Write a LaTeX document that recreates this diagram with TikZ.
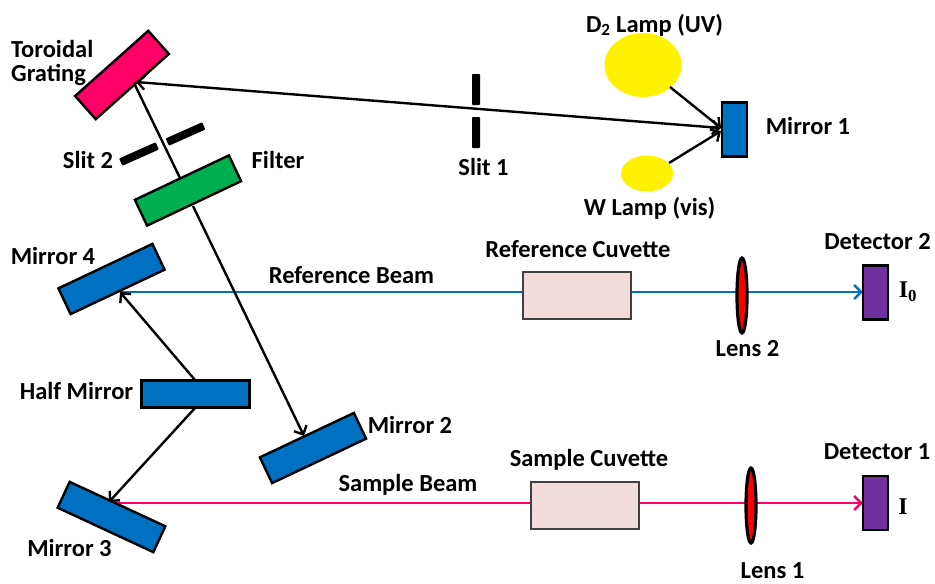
\documentclass[tikz,border=0pt]{standalone}
\usepackage{fontspec}
\setmainfont{Carlito}
\newfontfamily\serifbold{Liberation Serif}
\usetikzlibrary{arrows.meta,shapes.geometric,backgrounds}
\definecolor{mblue}{HTML}{0070C0}
\definecolor{mpink}{HTML}{FF0066}
\definecolor{mgreen}{HTML}{00B050}
\definecolor{mpurple}{HTML}{7030A0}
\definecolor{mcuv}{HTML}{F2DCDB}
\tikzset{
  optic/.style={draw=black,line width=2.4pt,rectangle,inner sep=0pt,outer sep=0pt},
  mirrorbox/.style={optic,fill=mblue},
  cuvette/.style={draw=black!75,line width=2pt,rectangle,inner sep=0pt,fill=mcuv,minimum width=108pt,minimum height=47pt},
  detector/.style={optic,fill=mpurple,minimum width=25.5pt,minimum height=54pt},
  lens/.style={ellipse,draw=black,line width=3.2pt,fill=red,inner sep=0pt,minimum width=10pt,minimum height=75pt},
  lamp/.style={ellipse,fill=yellow,inner sep=0pt},
  slitbar/.style={fill=black,rectangle,rounded corners=0.8pt,inner sep=0pt},
  lab/.style={font=\fontsize{24.5}{24}\selectfont\bfseries,inner sep=0pt,align=left},
  serlab/.style={font=\fontsize{24}{24}\selectfont\serifbold\bfseries,inner sep=0pt},
  beam/.style={line width=2.4pt,draw=black},
  tip/.style={-{Straight Barb[length=7pt,width=14pt,line width=2.4pt]}}
}
\begin{document}
\begin{tikzpicture}[x=1pt,y=-1pt]
\useasboundingbox (0,0) rectangle (935,584);
% optical elements
\node[optic,fill=mpink,minimum width=98pt,minimum height=31pt,rotate=41.7] (grating) at (122,75) {};
\node[optic,fill=mgreen,minimum width=104pt,minimum height=28.5pt,rotate=25.3] (filter) at (188,190.5) {};
\node[mirrorbox,minimum width=104pt,minimum height=28.5pt,rotate=25.3] (m4) at (111.5,279) {};
\node[mirrorbox,minimum width=104pt,minimum height=28.5pt,rotate=25.3] (m2) at (313,448) {};
\node[mirrorbox,minimum width=105.5pt,minimum height=28.5pt,rotate=-24.9] (m3) at (111.5,517) {};
\node[mirrorbox,minimum width=108pt,minimum height=27pt] (half) at (195.5,394) {};
\node[mirrorbox,minimum width=25pt,minimum height=54pt] (m1) at (734.5,129.5) {};
\node[lamp,minimum width=77pt,minimum height=64pt] (d2) at (643,65) {};
\node[lamp,minimum width=52pt,minimum height=36pt] (w) at (647,173.5) {};
\node[slitbar,minimum width=8pt,minimum height=31pt] (s1a) at (476,89.5) {};
\node[slitbar,minimum width=8pt,minimum height=31pt] (s1b) at (476,132.5) {};
\node[slitbar,minimum width=40pt,minimum height=8pt,rotate=24] (s2a) at (139,154) {};
\node[slitbar,minimum width=40pt,minimum height=8pt,rotate=24] (s2b) at (185.5,134) {};
\node[cuvette] (refcuv) at (576.5,295.5) {};
\node[cuvette] (samcuv) at (585,505.5) {};
\node[lens] (lens2) at (742,295.5) {};
\node[lens] (lens1) at (751,505.5) {};
\node[detector] (det2) at (875.5,292.5) {};
\node[detector] (det1) at (875.5,503) {};
% beam end points
\coordinate (gr) at (136,82);
\coordinate (grb) at (134,83);
\coordinate (mi) at (721,128);
\coordinate (fi) at (180,178);
\coordinate (fo) at (193,206);
\coordinate (m2i) at (304,436);
\coordinate (hu) at (195,380);
\coordinate (hd) at (195,408);
\coordinate (m4i) at (120,292);
\coordinate (m3i) at (109,502);
\coordinate (m3o) at (116,503);
\coordinate (d2o) at (670,87);
\coordinate (wo) at (669,163);
\coordinate (mj) at (721,131);
% beams
\begin{scope}[on background layer]
\draw[beam,draw=mblue,tip] (m4i) -- (det2.west |- m4i);
\draw[beam,draw=mpink,tip] (m3o) -- (det1.west |- m3o);
\end{scope}
\draw[beam,{Straight Barb[length=7pt,width=14pt,line width=2.4pt]}-{Straight Barb[length=7pt,width=14pt,line width=2.4pt]}] (gr) -- (mi);
\draw[beam] (grb) -- (fi);
\draw[beam,tip] (fo) -- (m2i);
\draw[beam,tip] (hu) -- (m4i);
\draw[beam,tip] (hd) -- (m3i);
\draw[beam,tip] (d2o) -- (mi);
\draw[beam,tip] (wo) -- (mj);
% labels
\node[lab,anchor=west] (ltor) at (11,63) {Toroidal\\Grating};
\node[lab] (lslit2) at (88,160) {Slit 2};
\node[lab] (lfilter) at (278,160) {Filter};
\node[lab] (lm4) at (53,256) {Mirror 4};
\node[lab] (lrb) at (351.5,275) {Reference Beam};
\node[lab] (lrc) at (578,249) {Reference Cuvette};
\node[lab] (ld2) at (877.5,242) {Detector 2};
\node[lab] (ll2) at (747.5,349) {Lens 2};
\node[serlab] (li0) at (908,292) {I\textsubscript{0}};
\node[lab] (lhm) at (76.5,391) {Half Mirror};
\node[lab] (lm2) at (410,425) {Mirror 2};
\node[lab] (lsb) at (408,485) {Sample Beam};
\node[lab] (lsc) at (589,460) {Sample Cuvette};
\node[lab] (ld1) at (877,452) {Detector 1};
\node[lab] (ll1) at (772.5,571) {Lens 1};
\node[serlab] (li) at (903,507) {I};
\node[lab] (lm3) at (69.5,548) {Mirror 3};
\node[lab] (ld2l) at (654.5,25) {D\textsubscript{2} Lamp (UV)};
\node[lab] (ls1) at (483.5,167) {Slit 1};
\node[lab] (lm1) at (808,126) {Mirror 1};
\node[lab] (lwl) at (649.5,208) {W Lamp (vis)};
\end{tikzpicture}
\end{document}
